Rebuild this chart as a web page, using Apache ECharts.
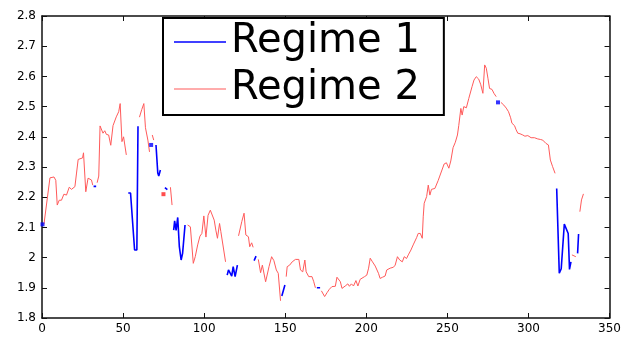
<!DOCTYPE html>
<html>
<head>
<meta charset="utf-8">
<script src="https://cdn.jsdelivr.net/npm/echarts@6/dist/echarts.min.js"></script>
<style>
html,body{margin:0;padding:0;background:#fff;}
#c{width:624px;height:337px;}
</style>
</head>
<body>
<div id="c"></div>
<script>
// x ticks and y ticks
const xTicks = [0, 50, 100, 150, 200, 250, 300, 350];
const yTicks = [1.8, 1.9, 2.0, 2.1, 2.2, 2.3, 2.4, 2.5, 2.6, 2.7, 2.8];
const seriesNames = ['Regime 1', 'Regime 2'];

// Regime 1 (blue) segments, null = break
const regime1 = [
  [0.3, 2.11], null,
  [31.8, 2.236], [33.4, 2.236], null,
  [53.2, 2.214], [54.6, 2.214], [57.1, 2.025], [58.5, 2.025], [59.2, 2.435], null,
  [67.3, 2.373], null,
  [70.3, 2.373], [71.4, 2.28], [72, 2.27], [73, 2.29], null,
  [75.8, 2.232], [77.3, 2.225], null,
  [81.2, 2.091], [81.8, 2.122], [82.7, 2.09], [83.7, 2.133], [84.7, 2.036], [85.8, 1.992], [86.7, 2.014], [88.2, 2.108], null,
  [114.2, 1.942], [115, 1.959], [115.8, 1.961], [117, 1.939], [117.9, 1.97], [119.1, 1.937], [120.5, 1.975], null,
  [130.8, 1.99], [132, 2.005], null,
  [147.9, 1.873], [149.8, 1.909], null,
  [169.5, 1.9], [171.5, 1.9], null,
  [281.2, 2.514], null,
  [317.4, 2.229], [319, 1.948], [320.2, 1.963], [322.1, 2.111], [324.5, 2.08], [325.3, 1.961], [326.2, 1.986], null,
  [330.3, 2.014], [330.9, 2.078]
];

// Regime 2 (red) segments, null = break
const regime2 = [
  [1.2, 2.11], [2.2, 2.113], [4.9, 2.264], [5.9, 2.26], [7.4, 2.267], [8.5, 2.256], [9.4, 2.174], [10.6, 2.19], [12, 2.19],
  [13.5, 2.21], [15.1, 2.207], [16.8, 2.233], [18.2, 2.226], [20.3, 2.235], [21.3, 2.28], [22.3, 2.325], [23.5, 2.327],
  [25, 2.33], [25.6, 2.347], [27, 2.218], [28.4, 2.263], [29.5, 2.268], [30.5, 2.257], [31.3, 2.24], null,
  [34, 2.248], [35, 2.27], [35.8, 2.436], [37.6, 2.412], [38.7, 2.42], [39.7, 2.408], [41.1, 2.406], [41.7, 2.4],
  [42.4, 2.372], [43.8, 2.437], [44.8, 2.443], [45.8, 2.466], [47.3, 2.483], [48.2, 2.51], [49.3, 2.384], [50.3, 2.4], [52, 2.34], null,
  [60.1, 2.465], [61.5, 2.49], [62.8, 2.51], [63.8, 2.43], [65.3, 2.389], [66.3, 2.35], null,
  [68, 2.406], [68.9, 2.389], null,
  [74.9, 2.21], null,
  [79.2, 2.233], [80.2, 2.174], null,
  [89.8, 2.108], [91.5, 2.102], [93.3, 1.981], [94.5, 2.003], [96, 2.042], [97.4, 2.071], [98.6, 2.08], [99.8, 2.138],
  [101.1, 2.068], [102.4, 2.14], [103.8, 2.157], [104.8, 2.158], [106.2, 2.124], [107.2, 2.091], [108.2, 2.064],
  [109.5, 2.113], [110.3, 2.086], [111.5, 2.088], [113.2, 1.986], null,
  [121.2, 2.072], [123.2, 2.119], [124.6, 2.147], [125.7, 2.075], [127.3, 2.069], [128.1, 2.036], [129.3, 2.049], [130.2, 2.034], null,
  [133.4, 1.994], [134.8, 1.95], [135.9, 1.975], [137.9, 1.92], [140, 1.97], [141.6, 2.003], [143, 1.99], [144.5, 1.959],
  [145.7, 1.948], [147.1, 1.857], null,
  [150.6, 1.937], [151.2, 1.97], [152.7, 1.975], [154.3, 1.986], [156.3, 1.994], [158.4, 1.994], [159.4, 1.959],
  [160.8, 1.953], [162.1, 1.992], [162.9, 1.953], [164.5, 1.937], [166.5, 1.937], [167.6, 1.92], [168.6, 1.9], null,
  [172.3, 1.89], [174.3, 1.871], [175.8, 1.884], [177.2, 1.895], [178.8, 1.904], [179.9, 1.909], [180.9, 1.905],
  [181.9, 1.935], [182.9, 1.937], [184, 1.92], [185, 1.898], [187, 1.906], [188.6, 1.913], [189.6, 1.905], [190.8, 1.913],
  [192.1, 1.906], [193.6, 1.924], [194.8, 1.906], [196.2, 1.928], [197.2, 1.924], [198.9, 1.937], [200.3, 1.942],
  [201.4, 1.965], [202.4, 1.998], [203.8, 1.986], [205.5, 1.972], [206.5, 1.975], [207.5, 1.948], [208.5, 1.931],
  [210, 1.935], [211.6, 1.939], [212.6, 1.959], [214.7, 1.965], [216.7, 1.968], [217.8, 1.975], [219.2, 2.003],
  [220.6, 1.992], [222.2, 1.986], [223.4, 2.003], [224.8, 1.997], [225.9, 2.009], [227.5, 2.025], [228.9, 2.042],
  [231, 2.066], [232, 2.08], [233.3, 2.08], [234.5, 2.064], [235.1, 2.135], [235.7, 2.18], [237.2, 2.202], [238.2, 2.24],
  [239.2, 2.207], [240.2, 2.226], [242.3, 2.229], [243.3, 2.232], [244.3, 2.255], [245.3, 2.27], [246.3, 2.27],
  [248, 2.31], [249.4, 2.314], [250.9, 2.296], [252.1, 2.32], [253.5, 2.364], [254.9, 2.382], [256.2, 2.406],
  [257, 2.437], [258.3, 2.494], [259.1, 2.472], [260.1, 2.5], [261.7, 2.496], [263.2, 2.527], [264.2, 2.53],
  [265.2, 2.566], [266.4, 2.588], [267.8, 2.599], [269.3, 2.591], [270.5, 2.574], [271.9, 2.544], [273, 2.638],
  [274, 2.627], [275, 2.594], [276, 2.56], [277.5, 2.557], [278.7, 2.544], [280.1, 2.533], null,
  [283, 2.514], [284.8, 2.505], [286.3, 2.495], [287.7, 2.483], [289, 2.463], [289.8, 2.445], [291.4, 2.437],
  [292.4, 2.423], [293.4, 2.412], [294.8, 2.41], [296.5, 2.406], [297.8, 2.402], [299.6, 2.404], [301.6, 2.397],
  [303.7, 2.397], [305.7, 2.393], [307.5, 2.391], [308.8, 2.389], [310.8, 2.378], [312.3, 2.373], [313.5, 2.323],
  [314.9, 2.301], [316.4, 2.279], null,
  [326.8, 2.009], [328, 2.003], [329.2, 2.003], null,
  [331.7, 2.152], [332.7, 2.191], [333.9, 2.211]
];

const blue = '#0000ff';
const red = '#ff5a5a';
const font = 'DejaVu Sans';

function toLine(arr) {
  return arr.map(p => p === null ? ['-', '-'] : p);
}
function singles(arr) {
  const out = [];
  arr.forEach((p, i) => {
    if (p && !arr[i - 1] && !arr[i + 1]) out.push(p);
  });
  return out;
}

const chart = echarts.init(document.getElementById('c'), null, {renderer: 'canvas'});

const axisCommon = {
  type: 'value',
  axisLine: {show: true, onZero: false, lineStyle: {color: '#111', width: 1.5}},
  axisTick: {show: true, inside: true, length: 5, lineStyle: {color: '#111', width: 1}},
  splitLine: {show: false}
};

chart.setOption({
  animation: false,
  backgroundColor: '#fff',
  grid: {left: 42, top: 16, width: 570, height: 302, containLabel: false},
  xAxis: [
    Object.assign({}, axisCommon, {
      position: 'bottom', min: xTicks[0], max: xTicks[xTicks.length - 1], interval: 50,
      axisLabel: {show: true, margin: 5, color: '#000', fontSize: 12, fontFamily: font}
    }),
    Object.assign({}, axisCommon, {
      position: 'top', min: xTicks[0], max: xTicks[xTicks.length - 1], interval: 50,
      axisLabel: {show: false}
    })
  ],
  yAxis: [
    Object.assign({}, axisCommon, {
      position: 'left', min: yTicks[0], max: yTicks[yTicks.length - 1], interval: 0.1,
      axisLabel: {show: true, margin: 6, color: '#000', fontSize: 12, fontFamily: font,
        formatter: v => String(Math.round(v * 10) / 10)}
    }),
    Object.assign({}, axisCommon, {
      position: 'right', min: yTicks[0], max: yTicks[yTicks.length - 1], interval: 0.1,
      axisLabel: {show: false}
    })
  ],
  legend: {
    data: [
      {name: seriesNames[0], icon: 'rect', itemStyle: {color: blue}},
      {name: seriesNames[1], icon: 'rect', itemStyle: {color: '#ff9090'}}
    ],
    orient: 'vertical',
    left: 163,
    top: 18,
    itemWidth: 52,
    itemHeight: 1.5,
    itemGap: 7,
    padding: [4, 24, 6, 11],
    borderColor: '#000',
    borderWidth: 2,
    borderRadius: 0,
    backgroundColor: '#fff',
    selectedMode: false,
    textStyle: {fontSize: 40, fontFamily: font, color: '#000', lineHeight: 40}
  },
  series: [
    {
      name: seriesNames[0], type: 'line', data: toLine(regime1),
      xAxisIndex: 0, yAxisIndex: 0,
      symbol: 'none', showSymbol: false, connectNulls: false,
      lineStyle: {color: blue, width: 1.6}, itemStyle: {color: blue}, z: 3
    },
    {
      name: seriesNames[1], type: 'line', data: toLine(regime2),
      xAxisIndex: 0, yAxisIndex: 0,
      symbol: 'none', showSymbol: false, connectNulls: false,
      lineStyle: {color: red, width: 1}, itemStyle: {color: red}, z: 2
    },
    {
      name: 'r1pts', type: 'scatter', data: singles(regime1), symbol: 'rect', symbolSize: 4,
      itemStyle: {color: blue}, z: 3
    },
    {
      name: 'r2pts', type: 'scatter', data: singles(regime2), symbol: 'rect', symbolSize: 4,
      itemStyle: {color: '#ff2020'}, z: 3
    }
  ]
});
</script>
</body>
</html>
